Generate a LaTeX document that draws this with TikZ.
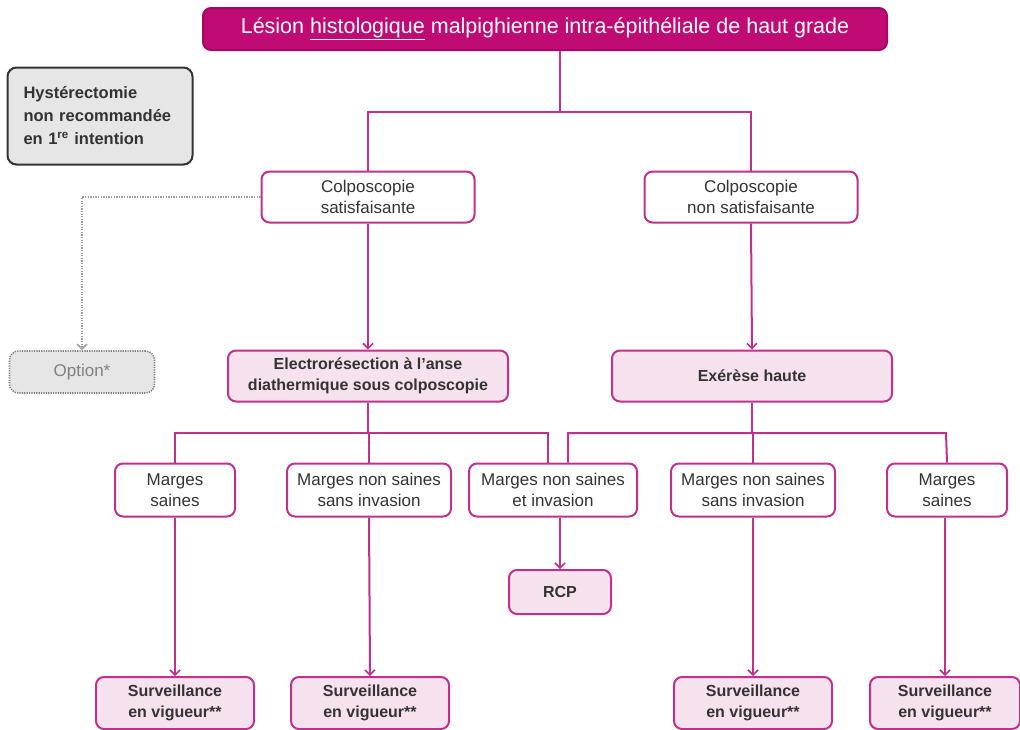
\documentclass[tikz,border=0pt]{standalone}
\usepackage{fontspec}
\setmainfont{Liberation Sans}
\usetikzlibrary{arrows.meta,positioning}
\definecolor{mag}{HTML}{C00A74}
\definecolor{bord}{HTML}{C0308C}
\definecolor{pinkfill}{HTML}{F6E2EF}
\definecolor{txt}{HTML}{333333}
\definecolor{grayfill}{HTML}{E6E6E6}
\definecolor{dotc}{HTML}{A0A0A0}
\newcommand{\fsz}{\fontsize{17}{20.5}\selectfont}
\newcommand{\fbz}{\fontsize{16}{20.5}\selectfont\bfseries}
\tikzset{
  box/.style={draw=bord, line width=2pt, rounded corners=8pt, fill=white, align=center, font=\fsz, text=txt, inner sep=0pt},
  pinkbox/.style={box, fill=pinkfill, font=\fbz},
  conn/.style={draw=bord, line width=2pt},
  arr/.style={conn, -{Straight Barb[length=5pt,width=10pt,line width=1.6pt]}},
}
\begin{document}
\begin{tikzpicture}[x=1pt,y=-1pt]
\useasboundingbox (0,0) rectangle (1020,729);
% top
\node[box, draw=mag!85!black, fill=mag, text=white, font=\fontsize{21.5}{24}\selectfont, minimum width=684, minimum height=42] (top) at (545,29)
  {Lésion \underline{histologique} malpighienne intra-épithéliale de haut grade};
% hysterectomie
\node[draw=black!80, line width=2pt, rounded corners=9pt, fill=grayfill, minimum width=185, minimum height=97, align=left, text=txt, font=\fontsize{16.5}{23}\selectfont\bfseries, inner sep=0pt, text width=153] (hyst) at (100,116)
  {Hystérectomie\\non recommandée\\en 1\textsuperscript{re} intention};
% level 1
\node[box, minimum width=213, minimum height=51] (cs) at (368,197) {Colposcopie\\satisfaisante};
\node[box, minimum width=213, minimum height=51] (cns) at (751,197) {Colposcopie\\non satisfaisante};
% option
\node[draw=dotc!80!black, dash pattern=on 1.2pt off 1.2pt, line width=1.6pt, rounded corners=9pt, fill=grayfill, minimum width=145, minimum height=42, text=black!50, font=\fsz, inner sep=0pt] (opt) at (82,372) {Option*};
% level 2
\node[pinkbox, minimum width=280, minimum height=51] (el) at (368,376) {Electrorésection à l’anse\\diathermique sous colposcopie};
\node[pinkbox, minimum width=280, minimum height=51] (ex) at (752,376) {Exérèse haute};
% level 3
\node[box, minimum width=120, minimum height=53] (ms1) at (175,490) {Marges\\saines};
\node[box, minimum width=164, minimum height=53] (mns1) at (369,490) {Marges non saines\\sans invasion};
\node[box, minimum width=168, minimum height=53] (mi) at (553,490) {Marges non saines\\et invasion};
\node[box, minimum width=164, minimum height=53] (mns2) at (753,490) {Marges non saines\\sans invasion};
\node[box, minimum width=120, minimum height=53] (ms2) at (947,490) {Marges\\saines};
% RCP
\node[pinkbox, minimum width=102, minimum height=44] (rcp) at (560,592) {RCP};
% surveillance
\node[pinkbox, minimum width=158, minimum height=52] (s1) at (175,703) {Surveillance\\en vigueur**};
\node[pinkbox, minimum width=158, minimum height=52] (s2) at (370,703) {Surveillance\\en vigueur**};
\node[pinkbox, minimum width=158, minimum height=52] (s3) at (753,703) {Surveillance\\en vigueur**};
\node[pinkbox, minimum width=150, minimum height=52] (s4) at (945,703) {Surveillance\\en vigueur**};
% junction coordinates
\coordinate (j0) at (560,112);
\coordinate (h1) at (175,433);
\coordinate (h2) at (548,433);
\coordinate (h3) at (568,433);
\coordinate (h4) at (946,433);
% connectors
\draw[conn] (top.south -| j0) -- (j0);
\draw[conn] (cs.north) |- (j0) -| (cns.north);
\draw[arr] (cs.south) -- (el.north);
\draw[arr] (cns.south) -- (ex.north);
\draw[dotc, line width=2.6pt, dash pattern=on 1.3pt off 1.3pt, -{Straight Barb[length=5pt,width=10pt,line width=1.6pt]}] (cs.west) -| (opt.north);
\draw[conn] (el.south) -- (el.south |- h1);
\draw[conn] (ms1.north) -- (h1) -- (h2) -- (h2 |- mi.north);
\draw[conn] (mns1.north) -- (mns1.north |- h1);
\draw[conn] (ex.south) -- (ex.south |- h3);
\draw[conn] (h3 |- mi.north) -- (h3) -- (h4) -- (ms2.north);
\draw[conn] (mns2.north) -- (mns2.north |- h3);
\draw[arr] (mi.south -| rcp.north) -- (rcp.north);
\draw[arr] (ms1.south) -- (s1.north);
\draw[arr] (mns1.south) -- (s2.north);
\draw[arr] (mns2.south) -- (s3.north);
\draw[arr] (ms2.south -| s4.north) -- (s4.north);
\end{tikzpicture}
\end{document}
